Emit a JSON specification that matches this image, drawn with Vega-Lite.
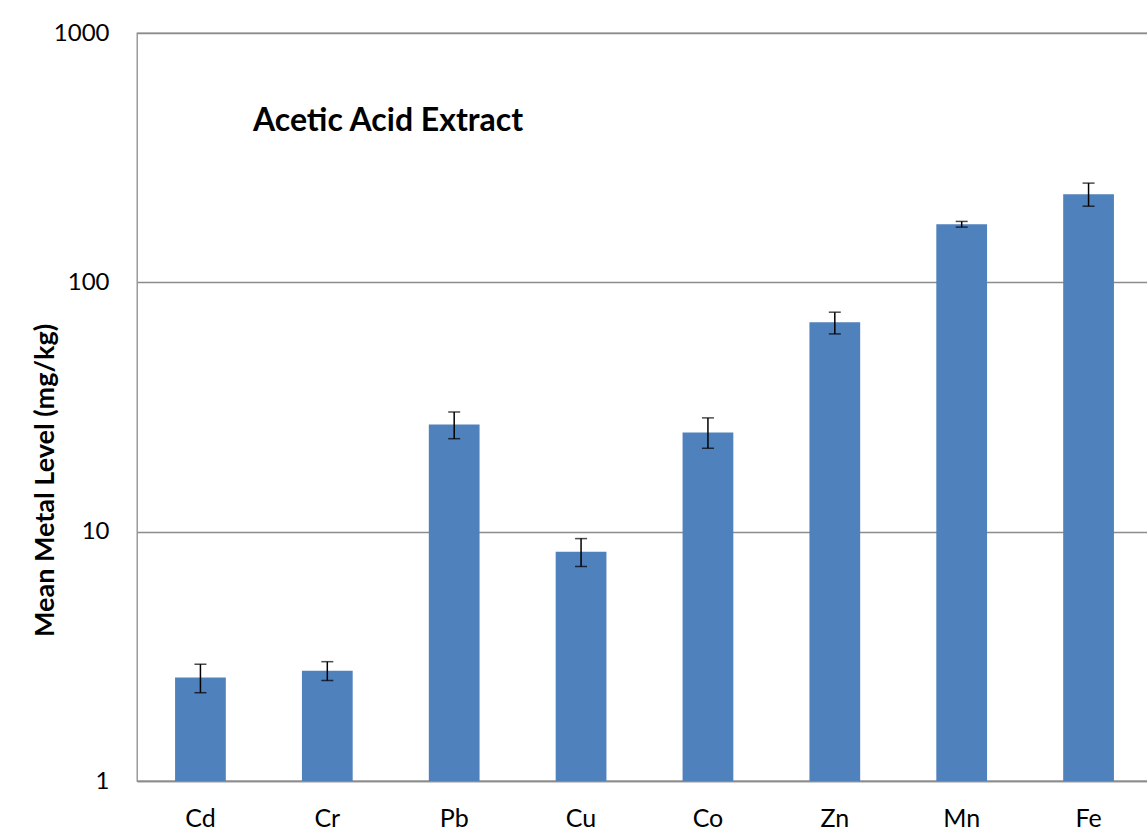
{
  "$schema": "https://vega.github.io/schema/vega-lite/v6.json",
  "autosize": {"type": "none"},
  "width": 1015,
  "height": 748,
  "padding": {"left": 137, "top": 33, "right": 0, "bottom": 49},
  "background": "white",
  "title": {
    "text": "Acetic Acid Extract",
    "anchor": "start",
    "frame": "group",
    "orient": "top",
    "offset": -142,
    "dx": 116,
    "baseline": "alphabetic",
    "font": "Lato",
    "fontSize": 32,
    "fontWeight": "bold",
    "color": "black"
  },
  "data": {
    "values": [
      {"metal": "Cd", "mean": 2.6, "lo": 2.26, "hi": 2.94},
      {"metal": "Cr", "mean": 2.77, "lo": 2.53, "hi": 3.01},
      {"metal": "Pb", "mean": 26.9, "lo": 23.6, "hi": 30.2},
      {"metal": "Cu", "mean": 8.3, "lo": 7.25, "hi": 9.38},
      {"metal": "Co", "mean": 25.0, "lo": 21.6, "hi": 28.6},
      {"metal": "Zn", "mean": 69.1, "lo": 62.1, "hi": 75.9},
      {"metal": "Mn", "mean": 171, "lo": 166.5, "hi": 175.5},
      {"metal": "Fe", "mean": 225.5, "lo": 202, "hi": 250}
    ]
  },
  "encoding": {
    "x": {
      "field": "metal",
      "type": "nominal",
      "sort": null,
      "scale": {"paddingInner": 0.6, "paddingOuter": 0.3},
      "axis": {
        "title": null,
        "labelAngle": 0,
        "labelFont": "Lato",
        "labelFontSize": 25,
        "labelColor": "black",
        "labelPadding": 25,
        "ticks": false,
        "domain": true,
        "domainColor": "#8c8c8c",
        "domainWidth": 1.3
      }
    }
  },
  "layer": [
    {
      "mark": {"type": "bar", "color": "#4f81bd"},
      "encoding": {
        "y": {
          "field": "mean",
          "type": "quantitative",
          "scale": {"type": "log", "domain": [1, 1000], "nice": false},
          "axis": {
            "title": "Mean Metal Level (mg/kg)",
            "titleFont": "Lato",
            "titleFontSize": 27,
            "titleFontWeight": "bold",
            "titleColor": "black",
            "titleAngle": -90,
            "titleBaseline": "alphabetic",
            "titleX": -84,
            "titleY": 447,
            "titleAnchor": "middle",
            "values": [1, 10, 100, 1000],
            "format": ".0f",
            "labelFont": "Lato",
            "labelFontSize": 24,
            "labelColor": "black",
            "labelPadding": 28,
            "ticks": false,
            "domain": false,
            "grid": true,
            "gridColor": "#8c8c8c",
            "gridWidth": 1.3
          }
        },
        "y2": {"datum": 1}
      }
    },
    {
      "mark": {"type": "rule", "color": "black", "strokeWidth": 1.5},
      "encoding": {
        "y": {"field": "lo", "type": "quantitative"},
        "y2": {"field": "hi"}
      }
    },
    {
      "mark": {"type": "tick", "color": "black", "orient": "horizontal", "size": 12, "thickness": 1.5},
      "encoding": {
        "y": {"field": "lo", "type": "quantitative"}
      }
    },
    {
      "mark": {"type": "tick", "color": "black", "orient": "horizontal", "size": 12, "thickness": 1.5},
      "encoding": {
        "y": {"field": "hi", "type": "quantitative"}
      }
    }
  ],
  "config": {
    "view": {"stroke": "#8c8c8c", "strokeWidth": 1.3},
    "tick": {"bandSize": 12}
  }
}
